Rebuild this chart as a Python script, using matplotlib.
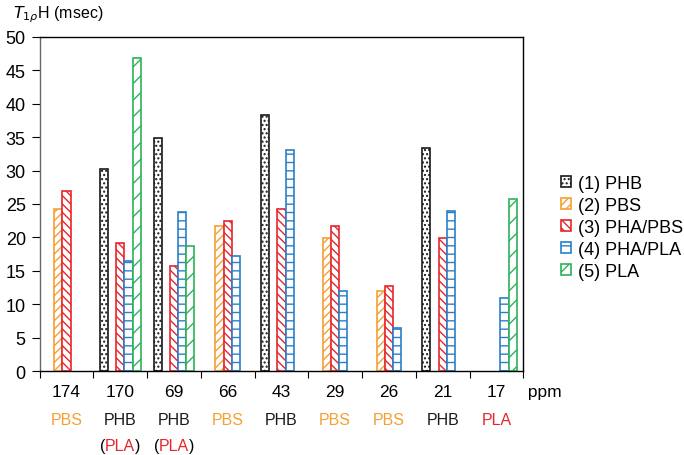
import matplotlib
matplotlib.use("Agg")
import matplotlib.pyplot as plt
import numpy as np

plt.rcParams['font.family'] = ['Liberation Sans', 'DejaVu Sans']
plt.rcParams['hatch.linewidth'] = 1.0

ppm = ['174', '170', '69', '66', '43', '29', '26', '21', '17']
assign1 = ['PBS', 'PHB', 'PHB', 'PBS', 'PHB', 'PBS', 'PBS', 'PHB', 'PLA']
assign2 = ['', 'PLA', 'PLA', '', '', '', '', '', '']
series = ['(1) PHB', '(2) PBS', '(3) PHA/PBS', '(4) PHA/PLA', '(5) PLA']
phb    = [np.nan, 30.3, 34.8, np.nan, 38.3, np.nan, np.nan, 33.4, np.nan]
pbs    = [24.2, np.nan, np.nan, 21.7, np.nan, 19.9, 12.0, np.nan, np.nan]
phapbs = [27.0, 19.1, 15.7, 22.4, 24.2, 21.7, 12.7, 19.9, np.nan]
phapla = [np.nan, 16.4, 23.8, 17.2, 33.1, 12.0, 6.4, 24.0, 11.0]
pla    = [np.nan, 46.8, 18.7, np.nan, np.nan, np.nan, np.nan, np.nan, 25.7]

colors = ['#1a1a1a', '#F5A033', '#E5262B', '#2A7FC9', '#2DB35A']
hatches = ['....', '////', '\\\\\\\\', '--', '//']
label_colors = {'PBS': '#F5A033', 'PHB': '#1a1a1a', 'PLA': '#E5262B'}

fig = plt.figure(figsize=(6.84, 4.56), dpi=100)
ax = fig.add_axes([0.058, 0.184, 0.707, 0.733])

x = np.arange(len(ppm))
w = 0.152
data = [phb, pbs, phapbs, phapla, pla]
handles = []
for i, (vals, c, h, lab) in enumerate(zip(data, colors, hatches, series)):
    b = ax.bar(x + (i - 2) * w, vals, w, facecolor='white', edgecolor=c,
               hatch=h, linewidth=1.2, label=lab)
    handles.append(b)

ax.set_xlim(-0.5, len(ppm) - 0.5)
ax.set_ylim(0, 50)
ax.set_yticks(np.arange(0, 51, 5))
ax.tick_params(axis='y', labelsize=13, length=6, direction='out', pad=4)
ax.set_xticks(np.arange(-0.5, len(ppm), 1))
ax.set_xticklabels([])
ax.tick_params(axis='x', length=5, direction='out')
for s in ax.spines.values():
    s.set_linewidth(1.0)
ax.spines['left'].set_color('#666666')

trans = ax.get_xaxis_transform()
for xi, p, a1, a2 in zip(x, ppm, assign1, assign2):
    ax.text(xi, -0.06, p, transform=trans, ha='center', va='center', fontsize=12.5)
    ax.text(xi, -0.145, a1, transform=trans, ha='center', va='center', fontsize=11.5,
            color=label_colors[a1])
    if a2:
        ax.text(xi - 0.28, -0.222, '(', transform=trans, ha='right', va='center', fontsize=11.5)
        ax.text(xi, -0.222, a2, transform=trans, ha='center', va='center', fontsize=11.5,
                color=label_colors[a2])
        ax.text(xi + 0.28, -0.222, ')', transform=trans, ha='left', va='center', fontsize=11.5)
ax.text(len(ppm) - 0.5, -0.06, ' ppm', transform=trans, ha='left', va='center', fontsize=12.5)

fig.text(0.019, 0.967, r'$T_{1\rho}$H (msec)', ha='left', va='center', fontsize=11.5)

leg = fig.legend(handles=handles, labels=series, loc='upper left',
                 bbox_to_anchor=(0.81, 0.63), frameon=False, fontsize=13,
                 handlelength=0.55, handleheight=0.55, handletextpad=0.35,
                 labelspacing=0.28, borderaxespad=0)

fig.savefig('out.png', dpi=100)
